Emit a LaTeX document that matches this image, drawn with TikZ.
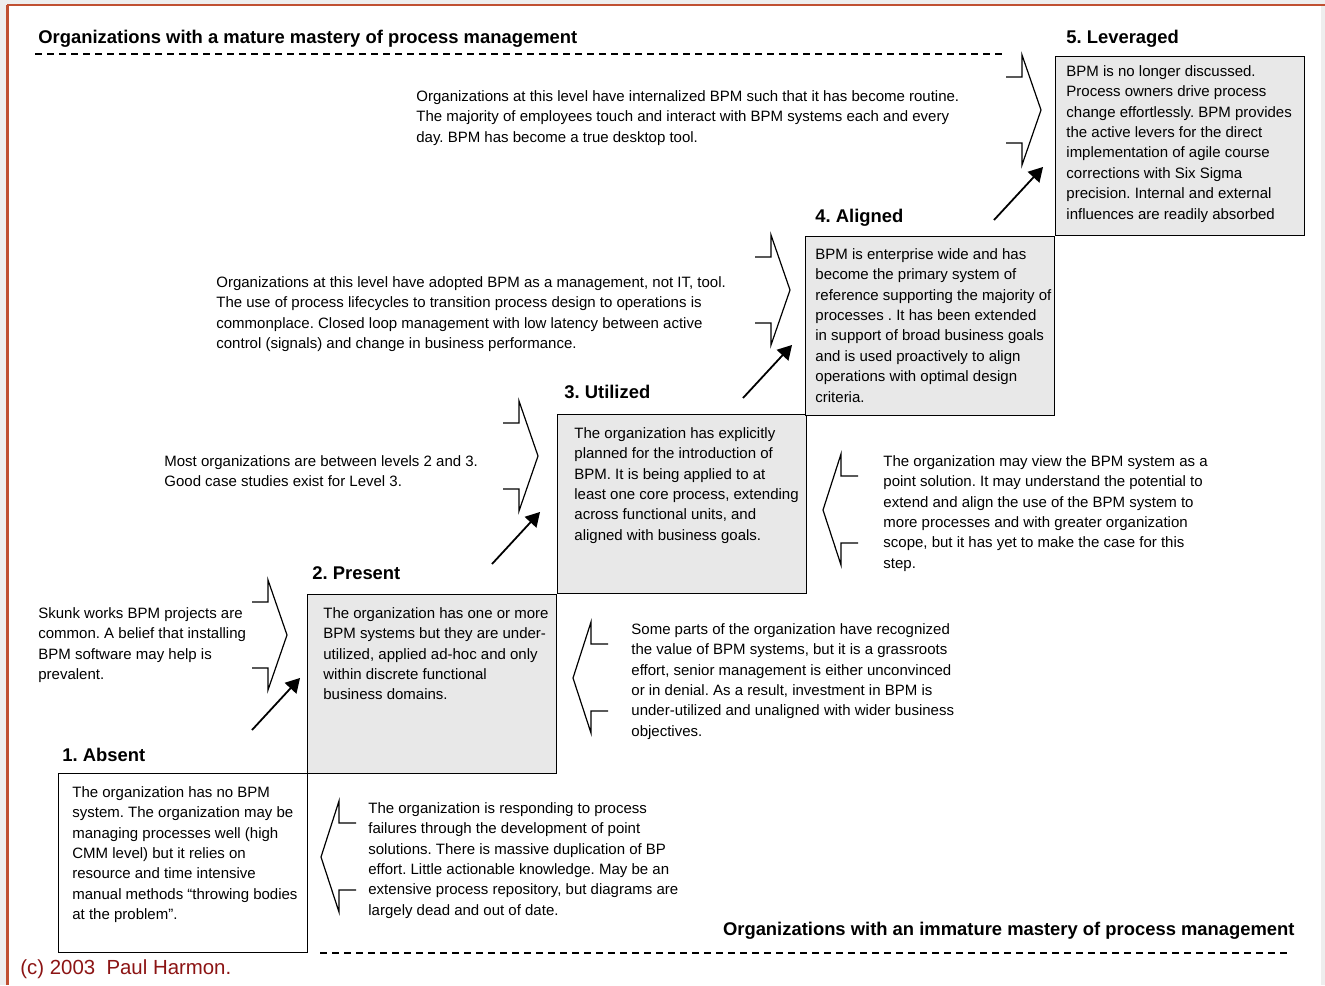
\documentclass[tikz,border=0pt]{standalone}
\usepackage{fontspec}
\setmainfont{Liberation Sans}
\usepackage{tikz}
\usetikzlibrary{arrows}
\frenchspacing
\definecolor{stagegray}{RGB}{232,232,232}
\definecolor{pagegray}{RGB}{238,238,238}
\definecolor{framered}{RGB}{192,80,50}
\definecolor{creditred}{RGB}{140,20,20}
\tikzset{
    stage/.style={
        draw=black,
        line width=0.6pt,
        fill=stagegray,
        anchor=north west,
        inner sep=0pt,
        minimum width=124.5pt,
        minimum height=89.5pt
    },
    stagename/.style={anchor=base west, inner sep=0pt, font=\fontsize{9.2}{11}\selectfont\bfseries},
    headline/.style={anchor=base west, inner sep=0pt, font=\fontsize{9.2}{11}\selectfont\bfseries},
    blurb/.style={anchor=north west, inner sep=0pt, align=left, font=\fontsize{7.5}{10.2}\selectfont},
    credit/.style={anchor=base west, inner sep=0pt, text=creditred, font=\fontsize{10.2}{12}\selectfont},
    divider/.style={dash pattern=on 3.5pt off 2.5pt, line width=1pt},
    climb/.style={>=triangle 60, ->, line width=0.9pt},
    brace/.style={line width=0.6pt},
    stepin/.pic={\draw[brace] (-35,-33) -- (-19,-33) -- (-19,-55) -- (0,0) -- (-19,55) -- (-19,33) -- (-35,33);},
    stepout/.pic={\draw[brace] (35,-34) -- (18,-34) -- (18,-56) -- (0,0) -- (18,55) -- (18,33) -- (35,33);}
}

\begin{document}
\begin{tikzpicture}[x=0.5pt,y=-0.5pt]
        \useasboundingbox (0,0) rectangle (1325,985);
        \fill[pagegray] (0,0) rectangle (1325,985);
        \fill[white] (8,6) rectangle (1321,985);
        \draw[framered,line width=1pt] (7,5) -- (1325,5);
        \draw[framered,line width=1.5pt] (7,5) -- (7,985);

        \node[headline] (mature) at (38,43) {Organizations with a mature mastery of process management};
        \draw[divider] (35,54) -- (1005,54);
        \node[headline,anchor=base east] (immature) at (1295,935) {Organizations with an immature mastery of process management};
        \draw[divider] (320,953) -- (1290,953);
        \node[credit] (copy) at (20,974) {(c) 2003\ \ Paul Harmon.};

        \node[stage,fill=white] (b1) at (58,773) {};
        \node[stage] (b2) at (307,594) {};
        \node[stage] (b3) at (557,414) {};
        \node[stage] (b4) at (805,236) {};
        \node[stage] (b5) at (1055,56) {};

        \node[stagename] (n1) at (62,761) {1. Absent};
        \node[stagename] (n2) at (312,579) {2. Present};
        \node[stagename] (n3) at (564,398) {3. Utilized};
        \node[stagename] (n4) at (815,222) {4. Aligned};
        \node[stagename] (n5) at (1066,43) {5. Leveraged};

        \node[blurb] (t1) at (72,786) {The organization has no BPM\\system. The organization may be\\managing processes well (high\\CMM level) but it relies on\\resource and time intensive\\manual methods “throwing bodies\\at the problem”.};
        \node[blurb] (t2) at (323,607) {The organization has one or more\\BPM systems but they are under-\\utilized, applied ad-hoc and only\\within discrete functional\\business domains.};
        \node[blurb] (t3) at (574,427) {The organization has explicitly\\planned for the introduction of\\BPM. It is being applied to at\\least one core process, extending\\across functional units, and\\aligned with business goals.};
        \node[blurb] (t4) at (815,248) {BPM is enterprise wide and has\\become the primary system of\\reference supporting the majority of\\processes . It has been extended\\in support of broad business goals\\and is used proactively to align\\operations with optimal design\\criteria.};
        \node[blurb] (t5) at (1066,65) {BPM is no longer discussed.\\Process owners drive process\\change effortlessly. BPM provides\\the active levers for the direct\\implementation of agile course\\corrections with Six Sigma\\precision. Internal and external\\influences are readily absorbed};

        \node[blurb] (l2) at (38,607) {Skunk works BPM projects are\\common. A belief that installing\\BPM software may help is\\prevalent.};
        \node[blurb] (l3) at (164,455) {Most organizations are between levels 2 and 3.\\Good case studies exist for Level 3.};
        \node[blurb] (l4) at (216,276) {Organizations at this level have adopted BPM as a management, not IT, tool.\\The use of process lifecycles to transition process design to operations is\\commonplace. Closed loop management with low latency between active\\control (signals) and change in business performance.};
        \node[blurb] (l5) at (416,90) {Organizations at this level have internalized BPM such that it has become routine.\\The majority of employees touch and interact with BPM systems each and every\\day. BPM has become a true desktop tool.};

        \node[blurb] (r1) at (368,802) {The organization is responding to process\\failures through the development of point\\solutions. There is massive duplication of BP\\effort. Little actionable knowledge. May be an\\extensive process repository, but diagrams are\\largely dead and out of date.};
        \node[blurb] (r2) at (631,623) {Some parts of the organization have recognized\\the value of BPM systems, but it is a grassroots\\effort, senior management is either unconvinced\\or in denial. As a result, investment in BPM is\\under-utilized and unaligned with wider business\\objectives.};
        \node[blurb] (r3) at (883,455) {The organization may view the BPM system as a\\point solution. It may understand the potential to\\extend and align the use of the BPM system to\\more processes and with greater organization\\scope, but it has yet to make the case for this\\step.};

        \pic at (287,635) {stepin};
        \pic at (538,456) {stepin};
        \pic at (790,290) {stepin};
        \pic at (1041,110) {stepin};
        \pic at (321,857) {stepout};
        \pic at (573,678) {stepout};
        \pic at (823,510) {stepout};

        \coordinate (s1) at (252,730);
        \coordinate (e1) at (300,678);
        \coordinate (s2) at (492,564);
        \coordinate (e2) at (540,512);
        \coordinate (s3) at (743,398);
        \coordinate (e3) at (792,345);
        \coordinate (s4) at (994,220);
        \coordinate (e4) at (1043,167);
        \draw[climb] (s1) -- (e1);
        \draw[climb] (s2) -- (e2);
        \draw[climb] (s3) -- (e3);
        \draw[climb] (s4) -- (e4);
\end{tikzpicture}
\end{document}
